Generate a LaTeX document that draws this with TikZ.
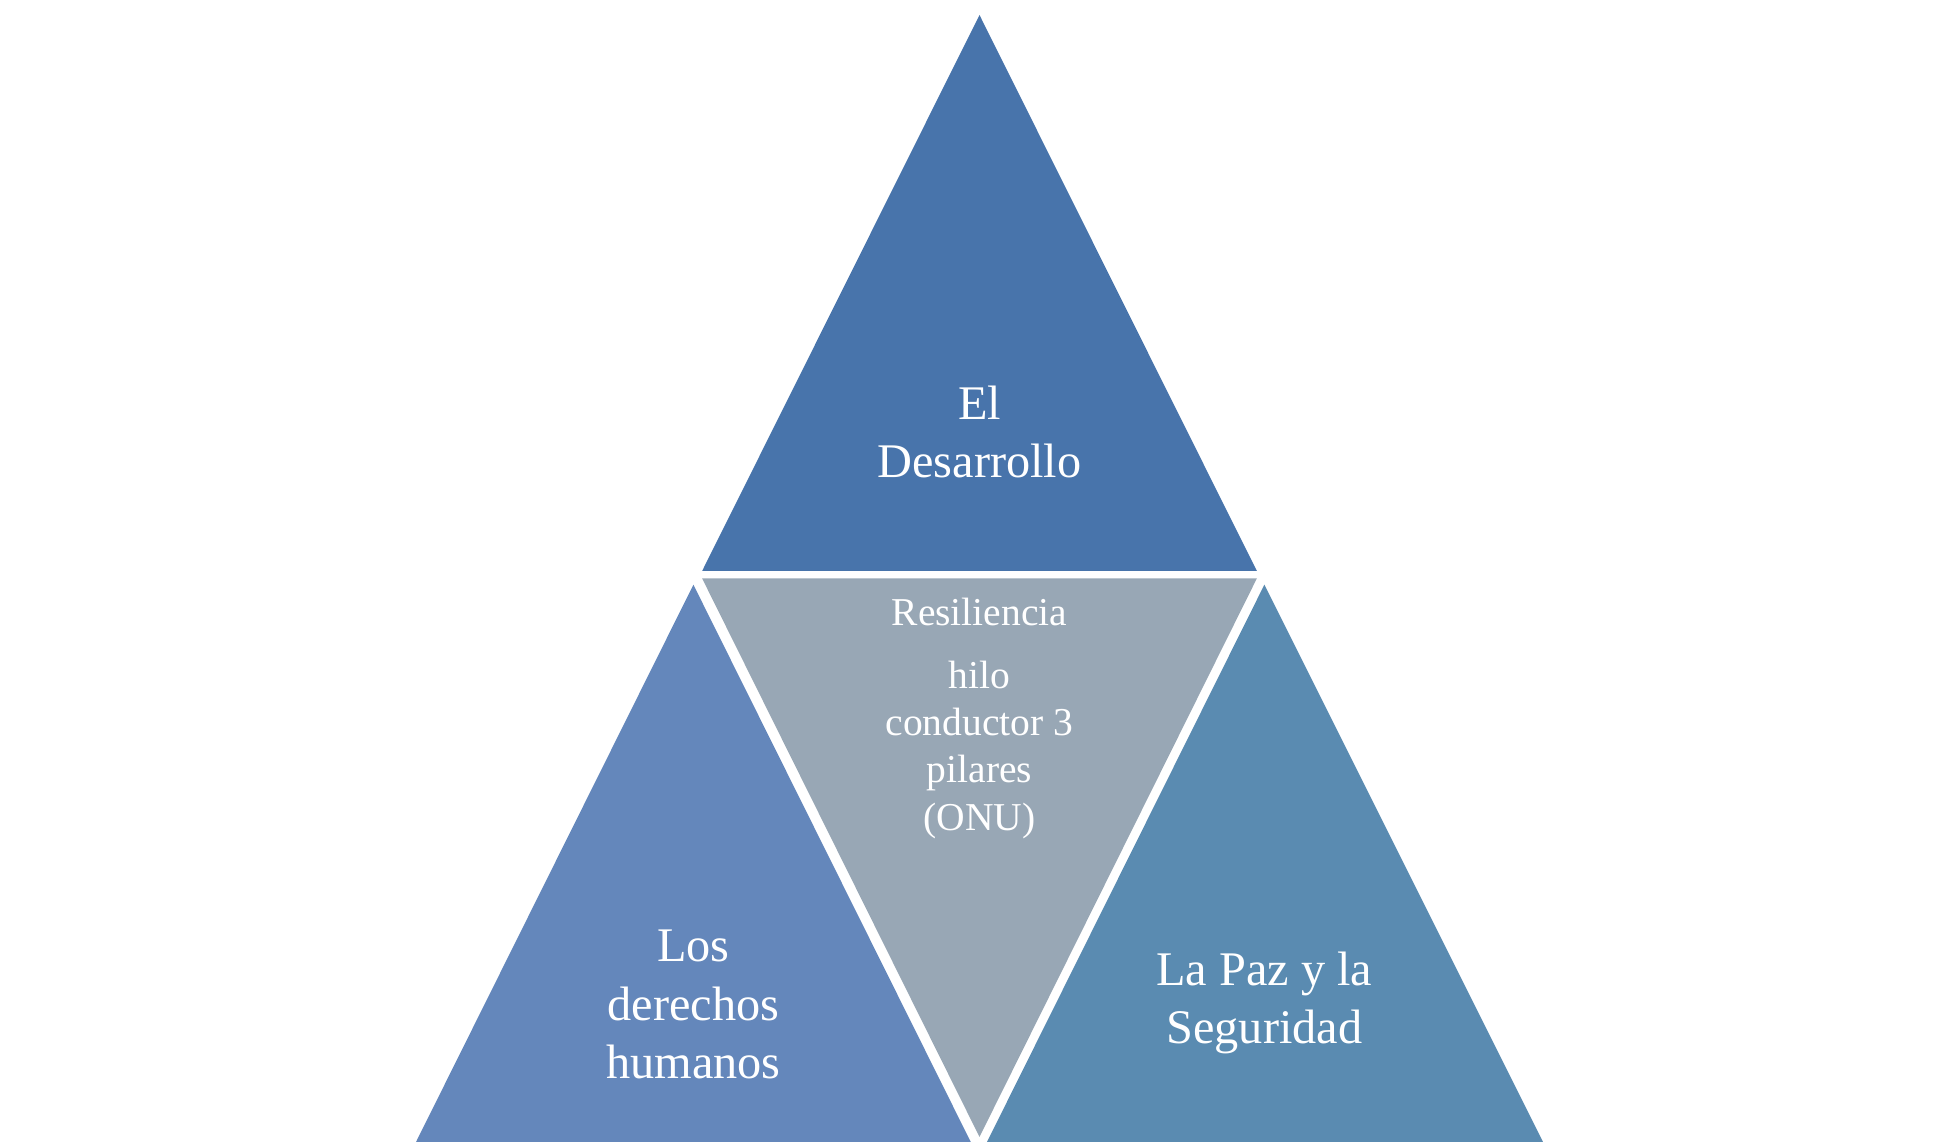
\documentclass[tikz,border=0pt]{standalone}
\usepackage{fontspec}
\setmainfont{Liberation Serif}
\definecolor{topblue}{HTML}{4874AB}
\definecolor{midgrey}{HTML}{98A7B5}
\definecolor{leftblue}{HTML}{6487BB}
\definecolor{rightblue}{HTML}{5A8BB1}
\tikzset{pillar/.style={text=white,align=center,font=\fontsize{22}{26.5}\selectfont},
  hilo/.style={text=white,align=center,font=\fontsize{18}{21.6}\selectfont}}
\begin{document}
\begin{tikzpicture}[x=0.02cm,y=-0.02cm]
 \useasboundingbox (0,0) rectangle (1560,917);
 \fill[topblue] (784,12) -- (1006,457) -- (562,457) -- cycle;
 \fill[midgrey] (562,463) -- (1006,463) -- (784,910) -- cycle;
 \fill[leftblue] (555,468) -- (777,914) -- (333,914) -- cycle;
 \fill[rightblue] (1012,468) -- (1235,914) -- (790,914) -- cycle;
 %
 \node[pillar] (dev) at (784,346) {El\\Desarrollo};
 \node[pillar] (hr) at (555,804) {Los\\derechos\\humanos};
 \node[pillar] (peace) at (1012,803) {La Paz y la\\Seguridad};
 \node[hilo] (res) at (784,490) {Resiliencia};
 \node[hilo] (thread) at (784,600) {hilo\\conductor 3\\pilares\\(ONU)};
\end{tikzpicture}
\end{document}
